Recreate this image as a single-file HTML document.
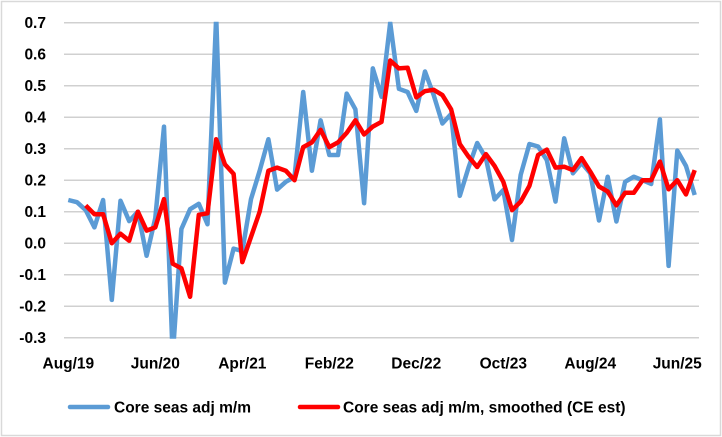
<!DOCTYPE html>
<html><head><meta charset="utf-8"><style>
html,body{margin:0;padding:0;background:#fff}
svg{display:block;font-family:"Liberation Sans",sans-serif}
</style></head><body>
<svg id="chart" width="722" height="437" viewBox="0 0 722 437" xmlns="http://www.w3.org/2000/svg">
<rect x="1.5" y="1.5" width="719" height="434" fill="#fff" stroke="#d9d9d9" stroke-width="1.5"/>
<g id="grid"></g>
<g id="yticks"></g>
<g id="xticks"></g>
<g id="series"></g>
<g>
<line x1="70" y1="407" x2="108" y2="407" stroke="#5b9bd5" stroke-width="4.5" stroke-linecap="round"/>
<text x="114" y="412.5" font-size="15.5" font-weight="bold" fill="#000">Core seas adj m/m</text>
<line x1="300" y1="407" x2="338" y2="407" stroke="#ff0000" stroke-width="4.5" stroke-linecap="round"/>
<text x="343" y="412.5" font-size="15.5" font-weight="bold" fill="#000">Core seas adj m/m, smoothed (CE est)</text>
</g>
</svg>
<script>
const coreValues = [0.137,0.13,0.105,0.05,0.137,-0.18,0.135,0.07,0.1,-0.04,0.08,0.37,-0.36,0.045,0.108,0.125,0.06,0.72,-0.125,-0.017,-0.025,0.14,0.23,0.33,0.17,0.195,0.21,0.48,0.23,0.39,0.28,0.28,0.475,0.425,0.127,0.555,0.465,0.7,0.49,0.48,0.42,0.545,0.47,0.38,0.41,0.15,0.24,0.318,0.27,0.139,0.169,0.01,0.217,0.315,0.307,0.264,0.132,0.333,0.222,0.255,0.222,0.072,0.211,0.069,0.195,0.211,0.2,0.188,0.393,-0.072,0.294,0.245,0.153];
const smoothedValues = [null,null,0.12,0.092,0.092,0.0,0.03,0.008,0.1,0.04,0.05,0.14,-0.065,-0.08,-0.17,0.09,0.095,0.33,0.25,0.22,-0.06,0.02,0.1,0.23,0.24,0.23,0.2,0.305,0.32,0.36,0.305,0.32,0.35,0.39,0.345,0.37,0.385,0.58,0.555,0.557,0.463,0.483,0.487,0.47,0.425,0.315,0.275,0.242,0.283,0.245,0.195,0.105,0.132,0.182,0.28,0.297,0.24,0.243,0.232,0.27,0.227,0.18,0.164,0.12,0.16,0.16,0.2,0.2,0.259,0.171,0.2,0.155,0.232];
const yTickValues = [0.7,0.6,0.5,0.4,0.3,0.2,0.1,0.0,-0.1,-0.2,-0.3];
const xTickLabels = ["Aug/19","Jun/20","Apr/21","Feb/22","Dec/22","Oct/23","Aug/24","Jun/25"];
const xTickIndices = [0,10,20,30,40,50,60,70];

const NS="http://www.w3.org/2000/svg";
const plotLeft=64, plotRight=699, plotTop=22.7, plotBottom=337.7, yMax=0.7, yMin=-0.3;
const nPoints=coreValues.length;
const xStep=(plotRight-plotLeft)/nPoints;
function xScale(i){return plotLeft+xStep*(i+0.5);}
function yScale(v){return plotTop+(yMax-v)/(yMax-yMin)*(plotBottom-plotTop);}
function mk(tag,attrs,parent){const e=document.createElementNS(NS,tag);for(const k in attrs)e.setAttribute(k,attrs[k]);parent.appendChild(e);return e;}

const gridG=document.getElementById('grid');
const ytG=document.getElementById('yticks');
yTickValues.forEach(v=>{
  const l=mk('line',{x1:plotLeft,x2:plotRight,y1:yScale(v),y2:yScale(v),stroke:'#d0d0d0','stroke-width':1.5},gridG);
  
  
  const t=mk('text',{x:46,y:yScale(v)+5.5,'text-anchor':'end','font-size':15.5,'font-weight':'bold',fill:'#000'},ytG);
  
  
  t.textContent=v.toFixed(1);
});
const xtG=document.getElementById('xticks');
xTickLabels.forEach((lab,k)=>{
  const t=mk('text',{x:xScale(xTickIndices[k]),y:368.5,'text-anchor':'middle','font-size':15.5,'font-weight':'bold',fill:'#000'},xtG);
  
  
  t.textContent=lab;
});
const serG=document.getElementById('series');
const clipEl=mk('clipPath',{id:'plotclip'},serG);
mk('rect',{x:plotLeft,y:plotTop-1,width:plotRight-plotLeft,height:plotBottom-plotTop+2},clipEl);
function pathFor(arr){let d='';arr.forEach((v,i)=>{if(v===null)return;d+=(d?'L':'M')+xScale(i).toFixed(1)+','+yScale(v).toFixed(1);});return d;}
const p1=mk('path',{d:pathFor(coreValues),fill:'none',stroke:'#5b9bd5','stroke-width':4.5,'stroke-linejoin':'round','clip-path':'url(#plotclip)'},serG);


const p2=mk('path',{d:pathFor(smoothedValues),fill:'none',stroke:'#ff0000','stroke-width':4.5,'stroke-linejoin':'round','clip-path':'url(#plotclip)'},serG);


</script>
</body></html>
